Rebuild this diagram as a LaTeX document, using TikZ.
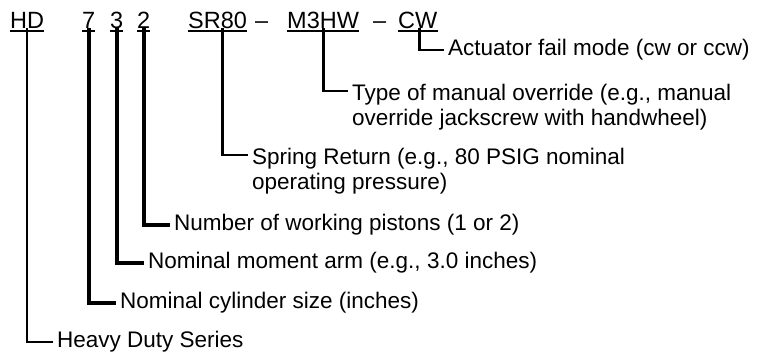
\documentclass[tikz,border=0pt]{standalone}
\usepackage{fontspec}
\setmainfont{Liberation Sans}
\begin{document}
\begin{tikzpicture}[x=1pt,y=-1pt,
  hdr/.style={inner sep=0pt, anchor=base west, font=\fontsize{23.5}{23.5}\selectfont},
  lab/.style={inner xsep=4pt, inner ysep=0pt, anchor=west, font=\fontsize{22.5}{25}\selectfont, align=left},
  uline/.style={line width=1.8pt},
  leader/.style={line width=2.8pt},
  thinleader/.style={line width=1.8pt},
  thickleader/.style={line width=3.6pt}]
\useasboundingbox[fill=white] (0,0) rectangle (762,360);
% header code
\node[hdr] (hd) at (10,28) {HD};
\node[hdr] (n7) at (82,28) {7};
\node[hdr] (n3) at (110,28) {3};
\node[hdr] (n2) at (137,28) {2};
\node[hdr] (sr) at (188,28) {SR80};
\node[hdr] (d1) at (255,28) {–};
\node[hdr] (m3) at (287,28) {M3HW};
\node[hdr] (d2) at (373,28) {–};
\node[hdr] (cw) at (398,28) {CW};
\foreach \n in {hd,n7,n3,n2,sr,m3,cw}
  \draw[uline] ([yshift=-3pt]\n.base west) -- ([yshift=-3pt]\n.base east);
% labels
\node[lab] (lcw) at (444,50) {Actuator fail mode (cw or ccw)};
\node[lab, anchor=north west] (lm3) at (348,84) {Type of manual override (e.g., manual\\override jackscrew with handwheel)};
\node[lab, anchor=north west] (lsr) at (248,148) {Spring Return (e.g., 80 PSIG nominal\\operating pressure)};
\node[lab] (l2) at (170,225) {Number of working pistons (1 or 2)};
\node[lab] (l3) at (144,263) {Nominal moment arm (e.g., 3.0 inches)};
\node[lab] (l7) at (116,303) {Nominal cylinder size (inches)};
\node[lab] (lhd) at (53,342) {Heavy Duty Series};
% connectors
\draw[leader] ([xshift=2pt]cw.south) |- (lcw.west);
\draw[leader] (m3.south) |- ([yshift=-7pt]lm3.north west);
\draw[leader] ([xshift=5pt]sr.south) |- ([yshift=-7pt]lsr.north west);
\draw[thickleader] (n2.south) |- (l2.west);
\draw[thickleader] (n3.south) |- (l3.west);
\draw[thickleader] (n7.south) |- (l7.west);
\draw[thinleader] (hd.south) |- (lhd.west);
\end{tikzpicture}
\end{document}
